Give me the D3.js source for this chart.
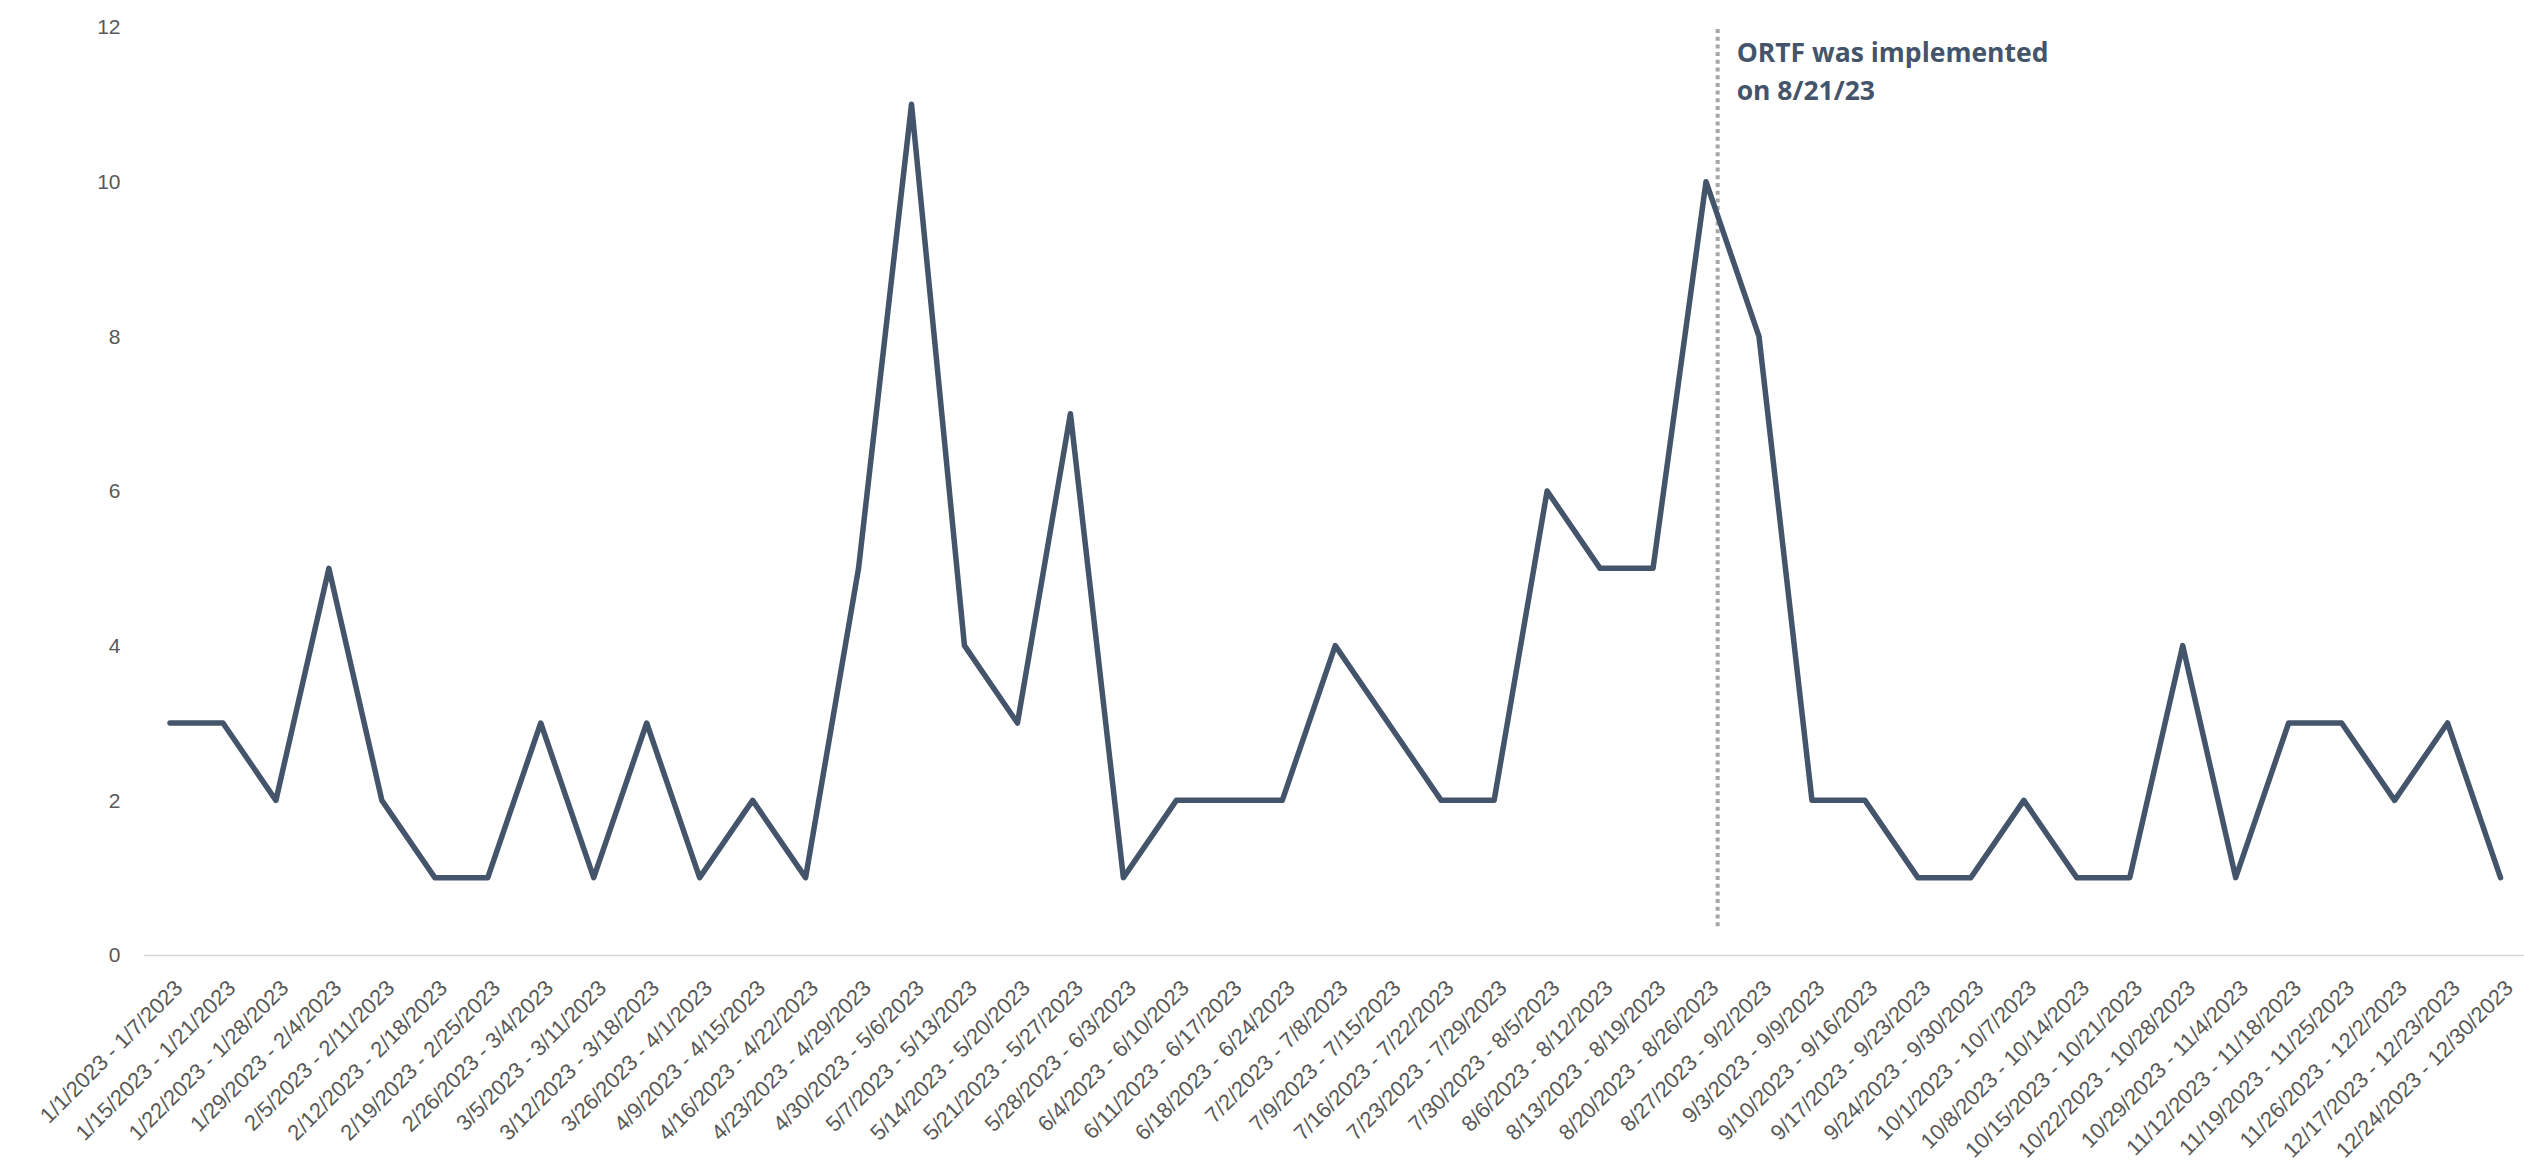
<!DOCTYPE html>
<html>

<head>
    <meta charset="utf-8">
    <title>Weekly counts 2023</title>
    <script src="https://d3js.org/d3.v7.min.js"></script>
    <style>
        body {
            margin: 0;
            background: #fff;
        }

        .tick text {
            font-family: "Liberation Sans", Arial, sans-serif;
            fill: #595959;
        }
    </style>
</head>

<body>
    <div id="chart"></div>

    <script>
        const weeks = [
            "1/1/2023 - 1/7/2023", "1/15/2023 - 1/21/2023", "1/22/2023 - 1/28/2023", "1/29/2023 - 2/4/2023",
            "2/5/2023 - 2/11/2023", "2/12/2023 - 2/18/2023", "2/19/2023 - 2/25/2023", "2/26/2023 - 3/4/2023",
            "3/5/2023 - 3/11/2023", "3/12/2023 - 3/18/2023", "3/26/2023 - 4/1/2023", "4/9/2023 - 4/15/2023",
            "4/16/2023 - 4/22/2023", "4/23/2023 - 4/29/2023", "4/30/2023 - 5/6/2023", "5/7/2023 - 5/13/2023",
            "5/14/2023 - 5/20/2023", "5/21/2023 - 5/27/2023", "5/28/2023 - 6/3/2023", "6/4/2023 - 6/10/2023",
            "6/11/2023 - 6/17/2023", "6/18/2023 - 6/24/2023", "7/2/2023 - 7/8/2023", "7/9/2023 - 7/15/2023",
            "7/16/2023 - 7/22/2023", "7/23/2023 - 7/29/2023", "7/30/2023 - 8/5/2023", "8/6/2023 - 8/12/2023",
            "8/13/2023 - 8/19/2023", "8/20/2023 - 8/26/2023", "8/27/2023 - 9/2/2023", "9/3/2023 - 9/9/2023",
            "9/10/2023 - 9/16/2023", "9/17/2023 - 9/23/2023", "9/24/2023 - 9/30/2023", "10/1/2023 - 10/7/2023",
            "10/8/2023 - 10/14/2023", "10/15/2023 - 10/21/2023", "10/22/2023 - 10/28/2023", "10/29/2023 - 11/4/2023",
            "11/12/2023 - 11/18/2023", "11/19/2023 - 11/25/2023", "11/26/2023 - 12/2/2023", "12/17/2023 - 12/23/2023",
            "12/24/2023 - 12/30/2023"
        ];

        const counts = [
            3, 3, 2, 5, 2, 1, 1, 3, 1, 3, 1, 2, 1, 5, 11, 4, 3, 7, 1, 2, 2, 2, 4, 3, 2,
            2, 6, 5, 5, 10, 8, 2, 2, 1, 1, 2, 1, 1, 4, 1, 3, 3, 2, 3, 1
        ];

        const yTicks = [0, 2, 4, 6, 8, 10, 12];

        // vertical marker: sits just after the 8/20 week
        const markerWeek = "8/20/2023 - 8/26/2023";
        const markerOffset = 0.22;
        const markerLines = ["ORTF was implemented", "on 8/21/23"];

        const W = 2524, H = 1165;
        const plotLeft = 143.5, plotRight = 2527, plotTop = 27, plotBottom = 955;

        const svg = d3.select("#chart")
            .append("svg")
            .attr("width", W)
            .attr("height", H);

        const x = d3.scalePoint()
            .domain(weeks)
            .range([plotLeft, plotRight])
            .padding(0.5);

        const y = d3.scaleLinear()
            .domain([0, 12])
            .range([plotBottom, plotTop]);

        // Y axis (labels only)
        const yAxis = svg.append("g")
            .attr("transform", `translate(${plotLeft},0)`)
            .call(d3.axisLeft(y).tickValues(yTicks).tickSize(0).tickPadding(23));
        yAxis.select(".domain").remove();
        yAxis.selectAll("text").style("font-size", "21px");

        // X axis
        const xAxis = svg.append("g")
            .attr("transform", `translate(0,${plotBottom})`)
            .call(d3.axisBottom(x).tickSize(0));
        xAxis.select(".domain")
            .attr("stroke", "#d9d9d9")
            .attr("stroke-width", 1.5);
        xAxis.selectAll("text")
            .style("font-size", "22px")
            .style("text-anchor", "end")
            .attr("x", 0)
            .attr("y", 0)
            .attr("dy", "0.35em")
            .attr("transform", "translate(8,29) rotate(-45)");

        // marker line
        const mx = x(markerWeek) + x.step() * markerOffset;
        svg.append("line")
            .attr("x1", mx)
            .attr("x2", mx)
            .attr("y1", plotTop + 2)
            .attr("y2", 927)
            .attr("stroke", "#a6a6a6")
            .attr("stroke-width", 4)
            .attr("stroke-dasharray", "4,3.7");

        const note = svg.append("text")
            .attr("x", mx + 19)
            .attr("y", 62)
            .attr("fill", "#44546a")
            .style("font-family", "'Open Sans', sans-serif")
            .style("font-weight", "bold")
            .style("font-size", "26.5px");
        note.selectAll("tspan")
            .data(markerLines)
            .join("tspan")
            .attr("x", mx + 19)
            .attr("dy", (d, i) => i === 0 ? 0 : 38)
            .text(d => d);

        // the line
        const line = d3.line()
            .x((d, i) => x(weeks[i]))
            .y(d => y(d));

        svg.append("path")
            .datum(counts)
            .attr("fill", "none")
            .attr("stroke", "#44546a")
            .attr("stroke-width", 5.5)
            .attr("stroke-linejoin", "round")
            .attr("stroke-linecap", "round")
            .attr("d", line);
    </script>
</body>

</html>
